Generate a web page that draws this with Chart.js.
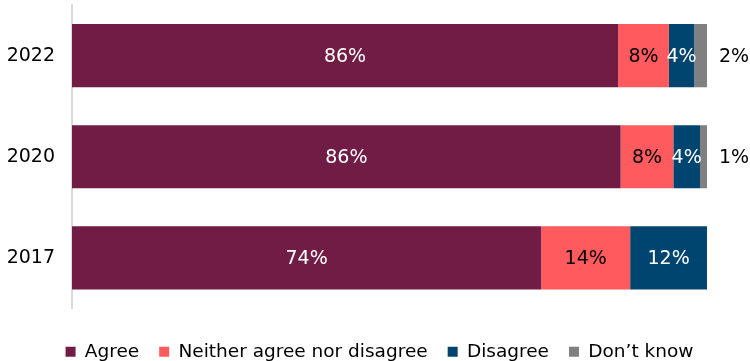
<!DOCTYPE html>
<html>
<head>
<meta charset="utf-8">
<script src="https://cdn.jsdelivr.net/npm/chart.js@4"></script>
<style>
  body { margin: 0; background: #fff; }
  canvas { display: block; }
</style>
</head>
<body>
<canvas id="agreeChart" width="750" height="361"></canvas>
<script>
// ===== DATA =====
var years = ["2022", "2020", "2017"];
var agree = [86, 86.4, 73.9];
var neither = [8, 8.3, 14.0];
var disagree = [4, 4.2, 12.1];
var dontKnow = [2, 1.1, 0];

var seriesNames = ["Agree", "Neither agree nor disagree", "Disagree", "Don\u2019t know"];
var seriesColors = ["#701C45", "#FF5A5E", "#004570", "#808080"];
var labelColors = ["#ffffff", "#000000", "#ffffff", "#000000"];

var FONT = "'DejaVu Sans', Verdana, sans-serif";

// ===== DATA LABELS =====
var barLabels = {
    id: "barLabels",
    afterLayout: function(chart) {
        // legend sits lower and further right in the original
        var lg = chart.legend;
        if (lg) {
            lg.left += 26; lg.right += 26;
            lg.top += 14; lg.bottom += 14;
        }
    },
    afterDatasetsDraw: function(chart) {
        var ctx = chart.ctx;
        var area = chart.chartArea;
        ctx.save();
        ctx.font = "19px " + FONT;
        ctx.textBaseline = "middle";
        ctx.textAlign = "center";
        chart.data.datasets.forEach(function(ds, di) {
            var meta = chart.getDatasetMeta(di);
            meta.data.forEach(function(bar, i) {
                var v = ds.data[i];
                if (!v) return;
                var txt = Math.round(v) + "%";
                var x = (bar.x + bar.base) / 2;
                if (di === 3) {
                    x = area.right + 27;
                }
                ctx.fillStyle = labelColors[di];
                ctx.fillText(txt, x, bar.y + 1);
            });
        });
        ctx.restore();
    }
};

var allSeries = [agree, neither, disagree, dontKnow];
var datasets = [];
for (var i = 0; i < allSeries.length; i++) {
    datasets.push({
        label: seriesNames[i],
        data: allSeries[i],
        backgroundColor: seriesColors[i],
        borderWidth: 0,
        barPercentage: 0.625,
        categoryPercentage: 1
    });
}

new Chart(document.getElementById("agreeChart"), {
    type: "bar",
    data: { labels: years, datasets: datasets },
    plugins: [barLabels],
    options: {
        indexAxis: "y",
        responsive: false,
        animation: false,
        layout: { padding: { top: 5, right: 43, bottom: 4, left: 0 } },
        plugins: {
            legend: {
                position: "bottom",
                labels: {
                    boxWidth: 10,
                    boxHeight: 10,
                    padding: 20,
                    color: "#000",
                    font: { size: 18.5, family: FONT }
                }
            },
            tooltip: { enabled: false }
        },
        scales: {
            x: {
                stacked: true,
                min: 0,
                max: 100,
                display: false
            },
            y: {
                stacked: true,
                grid: { display: false },
                border: { display: true, color: "#d9d9d9", width: 2 },
                ticks: {
                    padding: 9,
                    color: "#000",
                    font: { size: 19, family: FONT }
                },
                afterFit: function(scale) {
                    scale.width = 72;
                    scale.paddingTop = 0;
                    scale.paddingBottom = 0;
                }
            }
        }
    }
});
</script>
</body>
</html>
